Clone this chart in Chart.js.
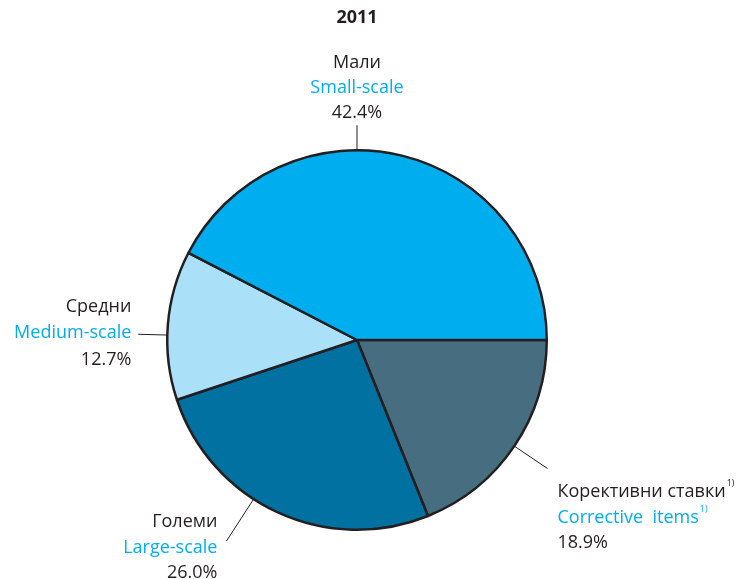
<!DOCTYPE html>
<html>
<head>
<meta charset="utf-8">
<script src="https://cdn.jsdelivr.net/npm/chart.js@4/dist/chart.umd.min.js"></script>
<style>
  html, body { margin: 0; padding: 0; background: #fff; }
  #wrap { width: 739px; height: 579px; position: relative; }
</style>
</head>
<body>
<div id="wrap"><canvas id="pie"></canvas></div>
<script>
// Data (counter-clockwise from 3 o'clock)
const chartTitle = '2011';
const labelsMk = ['Мали', 'Средни', 'Големи', 'Корективни ставки'];
const labelsEn = ['Small-scale', 'Medium-scale', 'Large-scale', 'Corrective  items'];
const shares = [42.4, 12.7, 26.0, 18.9];
const footnote = [false, false, false, true];

const sliceColors = ['#00AEEF', '#ABE0F9', '#0071A0', '#466E80'];
const textDark = '#231F20';
const textBlue = '#00AEEF';
const FONT = '"Open Sans", "DejaVu Sans", sans-serif';

// leader lines / label blocks: angle in degrees (counter-clockwise from east)
const labelLayout = [
  { angle: 90,    len: 25, align: 'center', dx: 0,  dy: [-62, -37, -12] },
  { angle: 178.5, len: 29, align: 'right',  dx: -7, dy: [-27, -1, 26] },
  { angle: 237,   len: 50, align: 'right',  dx: -9, dy: [-19, 7, 32] },
  { angle: -34,   len: 40, align: 'left',   dx: 10, dy: [23, 49, 74] }
];

// Chart.js draws clockwise, so feed the slices in reverse order
const order = [3, 2, 1, 0];

const labelPlugin = {
  id: 'sliceLabels',
  afterDraw(chart) {
    const ctx = chart.ctx;
    const arc = chart.getDatasetMeta(0).data[0];
    const cx = arc.x, cy = arc.y, r = arc.outerRadius;

    ctx.save();
    // title
    ctx.fillStyle = textDark;
    ctx.font = 'bold 18px ' + FONT;
    ctx.textAlign = 'center';
    ctx.textBaseline = 'middle';
    ctx.fillText(chartTitle, 357, 18);

    labelLayout.forEach((lay, i) => {
      const a = lay.angle * Math.PI / 180;
      const x0 = cx + r * Math.cos(a), y0 = cy - r * Math.sin(a);
      const x1 = cx + (r + lay.len) * Math.cos(a), y1 = cy - (r + lay.len) * Math.sin(a);
      ctx.strokeStyle = textDark;
      ctx.lineWidth = 1;
      ctx.beginPath();
      ctx.moveTo(x0, y0);
      ctx.lineTo(x1, y1);
      ctx.stroke();

      const tx = x1 + lay.dx;
      const lines = [labelsMk[i], labelsEn[i], shares[i].toFixed(1) + '%'];
      const colors = [textDark, textBlue, textDark];
      ctx.textAlign = lay.align;
      lines.forEach((t, k) => {
        ctx.font = '18px ' + FONT;
        ctx.fillStyle = colors[k];
        ctx.fillText(t, tx, y1 + lay.dy[k]);
        if (footnote[i] && k < 2) {
          const w = ctx.measureText(t).width;
          ctx.font = '9px ' + FONT;
          ctx.textAlign = 'left';
          ctx.fillText('1)', tx + w + 1, y1 + lay.dy[k] - 8);
          ctx.textAlign = lay.align;
        }
      });
    });
    ctx.restore();
  }
};

new Chart(document.getElementById('pie'), {
  type: 'pie',
  data: {
    labels: order.map(i => labelsEn[i]),
    datasets: [{
      data: order.map(i => shares[i]),
      backgroundColor: order.map(i => sliceColors[i]),
      borderColor: '#231F20',
      borderWidth: 2.5,
      borderAlign: 'center'
    }]
  },
  options: {
    responsive: true,
    maintainAspectRatio: false,
    animation: false,
    rotation: 90,
    layout: { padding: { top: 149, bottom: 48, left: 166, right: 191 } },
    plugins: {
      legend: { display: false },
      tooltip: { enabled: false },
      title: { display: false }
    }
  },
  plugins: [labelPlugin]
});
</script>
</body>
</html>
